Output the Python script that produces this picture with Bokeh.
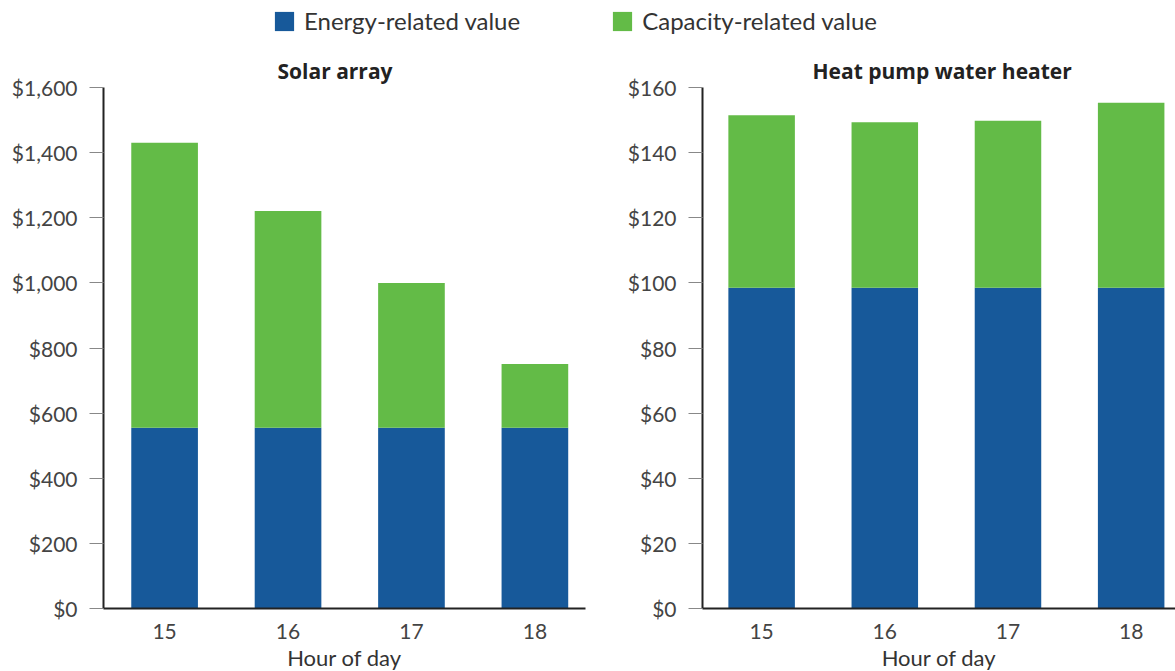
from bokeh.plotting import figure
from bokeh.layouts import column, row
from bokeh.models import (Range1d, FixedTicker, NumeralTickFormatter, ColumnDataSource,
                          Legend, LegendItem)
from bokeh.embed import file_html
from bokeh.resources import INLINE

# ---- data ----
hours = [15, 16, 17, 18]
solar_energy = [555, 555, 555, 555]
solar_capacity = [875, 666, 445, 196]
hp_energy = [98.5, 98.5, 98.5, 98.5]
hp_capacity = [53.0, 50.8, 51.3, 56.8]
solar_ticks = [0, 200, 400, 600, 800, 1000, 1200, 1400, 1600]
hp_ticks = [0, 20, 40, 60, 80, 100, 120, 140, 160]
series_names = ["Energy-related value", "Capacity-related value"]
panel_titles = ["Solar array", "Heat pump water heater"]
x_label = "Hour of day"

COLORS = ["#17599a", "#63bb47"]
FONT = "Lato"
TITLE_FONT = "Open Sans"


def panel(title, energy, capacity, ticks, frame_w, xr, min_left, min_right, title_offset):
    src = ColumnDataSource(dict(hour=hours, energy=energy, capacity=capacity))
    p = figure(frame_width=frame_w, frame_height=521, x_range=Range1d(*xr),
               y_range=Range1d(ticks[0], ticks[-1]),
               output_backend="svg", toolbar_location=None,
               min_border_left=min_left, min_border_right=min_right,
               min_border_top=37, min_border_bottom=62)
    p.vbar_stack(["energy", "capacity"], x="hour", width=0.54, color=COLORS,
                 source=src, line_width=0)
    p.outline_line_color = None
    p.grid.visible = False

    p.title.text = title
    p.title.align = "left"
    p.title.text_font = TITLE_FONT
    p.title.text_font_size = "21px"
    p.title.text_font_style = "bold"
    p.title.text_color = "#222222"
    p.title.offset = title_offset
    p.title.standoff = 5

    xa = p.xaxis[0]
    xa.ticker = FixedTicker(ticks=hours)
    xa.major_tick_line_color = None
    xa.minor_tick_line_color = None
    xa.axis_line_color = "#222222"
    xa.axis_line_width = 2
    xa.major_label_text_font = FONT
    xa.major_label_text_font_size = "21px"
    xa.major_label_text_color = "#444444"
    xa.major_label_standoff = 9
    xa.axis_label = x_label
    xa.axis_label_text_font = FONT
    xa.axis_label_text_font_size = "22px"
    xa.axis_label_text_font_style = "normal"
    xa.axis_label_text_color = "#333333"
    xa.axis_label_standoff = 2

    ya = p.yaxis[0]
    ya.ticker = FixedTicker(ticks=ticks)
    ya.formatter = NumeralTickFormatter(format="$0,0")
    ya.major_tick_in = 0
    ya.major_tick_out = 14
    ya.major_tick_line_color = "#888888"
    ya.major_tick_line_width = 1
    ya.minor_tick_line_color = None
    ya.axis_line_color = "#222222"
    ya.axis_line_width = 2
    ya.major_label_text_font = FONT
    ya.major_label_text_font_size = "21px"
    ya.major_label_text_color = "#444444"
    ya.major_label_standoff = 12
    return p, src


p1, src1 = panel(panel_titles[0], solar_energy, solar_capacity, solar_ticks,
                 482, (14.505, 18.41), 103, 15, 174)
p2, src2 = panel(panel_titles[1], hp_energy, hp_capacity, hp_ticks,
                 473, (14.52, 18.36), 102, 0, 110)

# ---- legend strip (renderers lie outside this strip's visible range) ----
lg = figure(width=1175, height=50, x_range=Range1d(0, 1), y_range=Range1d(0, 1),
            output_backend="svg", toolbar_location=None,
            x_axis_location=None, y_axis_location=None,
            min_border=0)
lg.outline_line_color = None
lg.grid.visible = False
r_e = lg.vbar(x="hour", top="energy", width=0.1, source=src1,
              fill_color=COLORS[0], line_color=None)
r_c = lg.vbar(x="hour", top="capacity", width=0.1, source=src1,
              fill_color=COLORS[1], line_color=None)
legend = Legend(items=[LegendItem(label=series_names[0], renderers=[r_e]),
                       LegendItem(label=series_names[1], renderers=[r_c])],
                orientation="horizontal", location=(272, 15),
                glyph_width=24, glyph_height=24, label_standoff=8, spacing=90,
                label_text_font=FONT, label_text_font_size="24px",
                label_text_color="#333333", label_height=24,
                border_line_alpha=0, background_fill_alpha=0, padding=0, margin=0)
lg.add_layout(legend, "center")

layout = column(lg, row(p1, p2))
open("out.html", "w").write(file_html(layout, INLINE))
